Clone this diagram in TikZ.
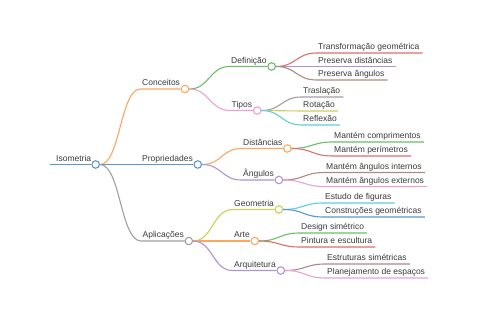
\documentclass[tikz,border=0pt]{standalone}
\usepackage{fontspec}
\setmainfont{Liberation Sans}
\usepackage{xcolor}
\usetikzlibrary{calc}
\definecolor{Txt}{HTML}{3A3A3A}
\definecolor{Blue}{HTML}{5A98CC}
\definecolor{Orange}{HTML}{FBA85E}
\definecolor{Green}{HTML}{6DBD6D}
\definecolor{Red}{HTML}{DD7070}
\definecolor{Purple}{HTML}{AE95CF}
\definecolor{Brown}{HTML}{AD8B83}
\definecolor{Pink}{HTML}{EBA0D6}
\definecolor{Gray}{HTML}{A0A0A0}
\definecolor{Olive}{HTML}{CDCE5C}
\definecolor{Cyan}{HTML}{5ECFDC}
\tikzset{
  lbl/.style={font=\fontsize{8.5}{10}\selectfont, text=Txt, inner xsep=1.5pt,
    inner ysep=3pt, text depth=0pt, anchor=south west},
  dot/.style={circle, draw=#1, fill=white, line width=1.1pt, minimum size=7.5pt,
    inner sep=0pt, anchor=west},
  link/.style={line width=1.1pt, to path={let \p1=(\tikztostart), \p2=(\tikztotarget),
    \p3=($(\p1)!0.5!(\p2)$) in .. controls (\x3,\y1) and (\x3,\y2) .. (\p2)}}
}
\newcommand{\mmbranch}[5]{
  \node[lbl] (#2) at (#4) {#5};
  \node[dot=#3] (#2-o) at ([xshift=-1pt]#2.south east) {};
  \draw[link, #3] (#1.east) to (#2.south west) -- (#2-o.west);
}
\newcommand{\mmleaf}[5]{
  \node[lbl] (#2) at (#4) {#5};
  \draw[link, #3] (#1.east) to (#2.south west) -- ([xshift=1.5pt]#2.south east);
}

\begin{document}
\begin{tikzpicture}[x=1pt, y=-1pt]
  \fill[white] (0,0) rectangle (480,320);
  \useasboundingbox (0,0) rectangle (480,320);
  \coordinate (start) at (50,164.5);
  \node[lbl] (root) at (54.5,164.5) {Isometria};
  \node[dot=Blue] (root-o) at ([xshift=-1.5pt]root.south east) {};
  \draw[Blue, line width=1.5pt] (start) -- (root-o.west);

  \mmbranch{root-o}{conc}{Orange}{140.5,89}{Conceitos}
  \mmbranch{root-o}{prop}{Blue}{140.5,164.5}{Propriedades}
  \mmbranch{root-o}{apl}{Gray}{141,241}{Aplicações}

  \mmbranch{conc-o}{def}{Green}{229.5,66.5}{Definição}
  \mmbranch{conc-o}{tipos}{Pink}{230,110.5}{Tipos}
  \mmbranch{prop-o}{dist}{Orange}{241.5,148.5}{Distâncias}
  \mmbranch{prop-o}{ang}{Purple}{241.5,180}{Ângulos}
  \mmbranch{apl-o}{geo}{Olive}{232.5,209.5}{Geometria}
  \mmbranch{apl-o}{arte}{Orange}{232.5,241}{Arte}
  \mmbranch{apl-o}{arq}{Purple}{232.5,270.5}{Arquitetura}

  \mmleaf{def-o}{transf}{Red}{316.5,53}{Transformação geométrica}
  \mmleaf{def-o}{pdist}{Purple}{316.5,66.5}{Preserva distâncias}
  \mmleaf{def-o}{pang}{Brown}{316.5,80}{Preserva ângulos}
  \mmleaf{tipos-o}{trasl}{Gray}{301.5,97}{Traslação}
  \mmleaf{tipos-o}{rot}{Olive}{301.5,111}{Rotação}
  \mmleaf{tipos-o}{refl}{Cyan}{301.5,125}{Reflexão}
  \mmleaf{dist-o}{comp}{Green}{332.5,142}{Mantém comprimentos}
  \mmleaf{dist-o}{perim}{Red}{332.5,156}{Mantém perímetros}
  \mmleaf{ang-o}{intern}{Brown}{324.5,172.5}{Mantém ângulos internos}
  \mmleaf{ang-o}{extern}{Pink}{324.5,186.5}{Mantém ângulos externos}
  \mmleaf{geo-o}{estudo}{Cyan}{323.5,203}{Estudo de figuras}
  \mmleaf{geo-o}{constr}{Blue}{323.5,217}{Construções geométricas}
  \mmleaf{arte-o}{design}{Green}{299.5,233}{Design simétrico}
  \mmleaf{arte-o}{pint}{Red}{299.5,247}{Pintura e escultura}
  \mmleaf{arq-o}{estr}{Brown}{325.5,264}{Estruturas simétricas}
  \mmleaf{arq-o}{plan}{Pink}{325.5,278}{Planejamento de espaços}
\end{tikzpicture}
\end{document}
